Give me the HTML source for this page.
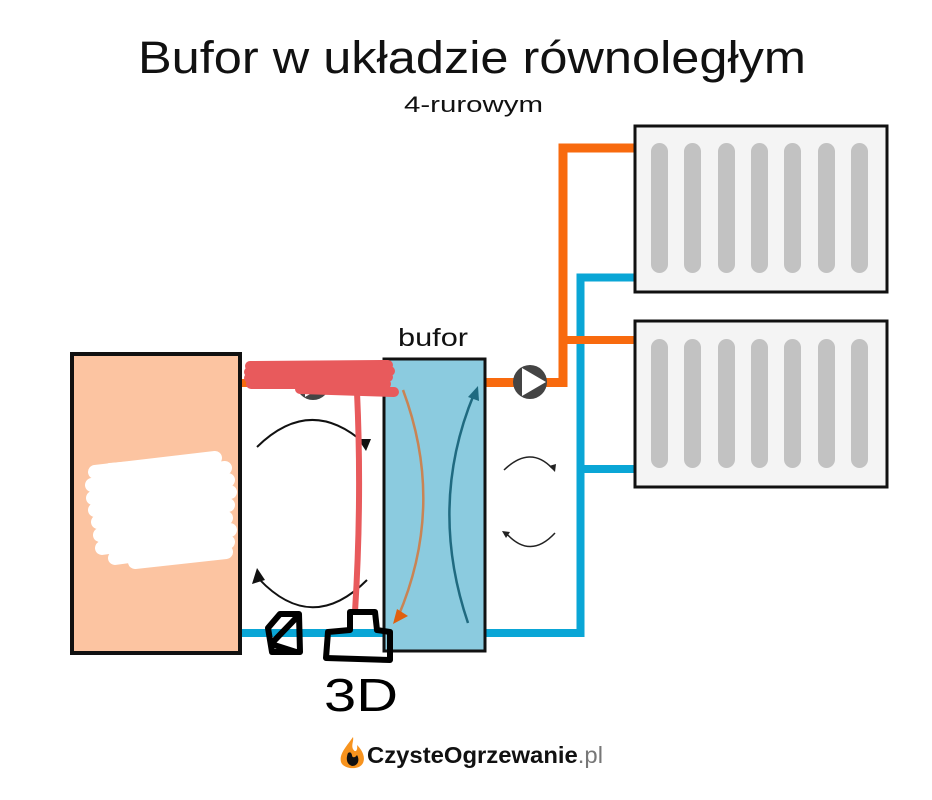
<!DOCTYPE html>
<html>
<head>
<meta charset="utf-8">
<style>
html,body{margin:0;padding:0;background:#fff;}
svg{display:block;}
</style>
</head>
<body>
<svg width="932" height="800" viewBox="0 0 932 800" xmlns="http://www.w3.org/2000/svg">
<rect width="932" height="800" fill="#fff"/>

<!-- Title -->
<text x="138" y="73" font-family="Liberation Sans, DejaVu Sans, sans-serif" font-size="45" fill="#111" textLength="668" lengthAdjust="spacingAndGlyphs">Bufor w układzie równoległym</text>
<text x="404" y="112" font-family="Liberation Sans, DejaVu Sans, sans-serif" font-size="22" fill="#111" textLength="139" lengthAdjust="spacingAndGlyphs">4-rurowym</text>
<text x="398" y="346" font-family="Liberation Sans, DejaVu Sans, sans-serif" font-size="25" fill="#111" textLength="70" lengthAdjust="spacingAndGlyphs">bufor</text>

<!-- Pipes left -->
<line x1="242" y1="383" x2="384" y2="383" stroke="#f86a0e" stroke-width="8"/>
<line x1="242" y1="633" x2="384" y2="633" stroke="#0aa6d6" stroke-width="8"/>

<!-- Pipes right: blue -->
<polyline points="486,633 580.5,633 580.5,277.5 634,277.5" fill="none" stroke="#0aa6d6" stroke-width="8"/>
<line x1="580.5" y1="469" x2="634" y2="469" stroke="#0aa6d6" stroke-width="8"/>
<!-- orange -->
<polyline points="486,382.5 563,382.5 563,148 634,148" fill="none" stroke="#f86a0e" stroke-width="9"/>
<line x1="563" y1="340" x2="634" y2="340" stroke="#f86a0e" stroke-width="8"/>

<!-- Boiler -->
<rect x="72" y="354" width="168" height="299" fill="#fcc4a1" stroke="#111" stroke-width="4"/>

<!-- Buffer -->
<rect x="384" y="359" width="101" height="292" fill="#8bcbdf" stroke="#111" stroke-width="3"/>

<!-- Radiators -->
<rect x="635" y="126" width="252" height="166" fill="#f4f4f4" stroke="#111" stroke-width="3"/>
<g fill="#c2c2c2">
<rect x="651" y="143" width="17" height="130" rx="8.5"/>
<rect x="684" y="143" width="17" height="130" rx="8.5"/>
<rect x="718" y="143" width="17" height="130" rx="8.5"/>
<rect x="751" y="143" width="17" height="130" rx="8.5"/>
<rect x="784" y="143" width="17" height="130" rx="8.5"/>
<rect x="818" y="143" width="17" height="130" rx="8.5"/>
<rect x="851" y="143" width="17" height="130" rx="8.5"/>
</g>
<rect x="635" y="321" width="252" height="166" fill="#f4f4f4" stroke="#111" stroke-width="3"/>
<g fill="#c2c2c2">
<rect x="651" y="339" width="17" height="129" rx="8.5"/>
<rect x="684" y="339" width="17" height="129" rx="8.5"/>
<rect x="718" y="339" width="17" height="129" rx="8.5"/>
<rect x="751" y="339" width="17" height="129" rx="8.5"/>
<rect x="784" y="339" width="17" height="129" rx="8.5"/>
<rect x="818" y="339" width="17" height="129" rx="8.5"/>
<rect x="851" y="339" width="17" height="129" rx="8.5"/>
</g>

<!-- Pumps -->
<g>
<circle cx="530" cy="382" r="17" fill="#444"/>
<polygon points="522,368 546,382 522,396" fill="#fff"/>
</g>
<g>
<circle cx="313" cy="383" r="17" fill="#444"/>
<polygon points="305,369 329,383 305,397" fill="#fff"/>
</g>

<!-- Black circulation arcs left -->
<path d="M257,447 Q310,395 364,443" fill="none" stroke="#111" stroke-width="2"/>
<polygon points="358,439 371,439 366,451" fill="#111"/>
<path d="M367,580 Q312,635 259,579" fill="none" stroke="#111" stroke-width="2"/>
<polygon points="252,584 257,568 265,580" fill="#111"/>

<!-- Small arcs right -->
<path d="M504,470 Q530,445 552,468" fill="none" stroke="#222" stroke-width="1.5"/>
<polygon points="549,466 556,464 555,472" fill="#222"/>
<path d="M555,533 Q530,560 506,533" fill="none" stroke="#222" stroke-width="1.5"/>
<polygon points="502,531 510,532 506,538" fill="#222"/>

<!-- Buffer arrows -->
<path d="M403,390 Q446,505 398,617" fill="none" stroke="#c98454" stroke-width="2.5"/>
<polygon points="393,624 397,609 408,616" fill="#e0600f"/>
<path d="M468,623 Q428,505 474,394" fill="none" stroke="#1f6a80" stroke-width="2.5"/>
<polygon points="478,386 479,401 468,397" fill="#1f6a80"/>

<!-- White scribble on boiler -->
<g fill="none" stroke="#fff" stroke-width="14" stroke-linecap="round" stroke-linejoin="round">
<path d="M95,472 L215,458 L92,485 L225,468 L93,498 L228,480 L95,510 L230,492 L98,522 L228,505 L100,535 L226,518 L102,548 L230,530 L115,558 L228,542 L135,562 L226,552"/>
<path d="M110,470 L205,462 M105,540 L200,528 M120,555 L210,545"/>
</g>

<!-- Red scribble -->
<g fill="none" stroke="#e85a5c" stroke-linecap="round" stroke-linejoin="round">
<path d="M250,366 L388,365 M249,372 L390,371 M249,378 L388,377 M251,384 L386,384 M300,389 L394,392" stroke-width="10"/>
<path d="M357,392 Q362,500 355,612" stroke-width="6"/>
</g>

<!-- Hand-drawn black shapes -->
<g fill="none" stroke="#000" stroke-width="6" stroke-linecap="round" stroke-linejoin="round">
<path d="M280,614 L299,614 L300,652 L272,652 L268,628 L280,614 Z"/>
<path d="M298,616 L271,644 L296,652"/>
<path d="M328,632 L350,630 L350,612 L375,612 L377,630 L390,632 L390,660 L326,658 Z"/>
</g>
<text x="324" y="711" font-family="Liberation Sans, DejaVu Sans, sans-serif" font-size="46" fill="#000" textLength="74" lengthAdjust="spacingAndGlyphs">3D</text>

<!-- Logo -->
<path d="M353,737 C346,747 339,754 341,762 C343,769 359,771 363,763 C366,756 361,749 357,745 C358,751 355,753 353,749 C351,745 354,741 353,737 Z" fill="#f7931e"/>
<path d="M348,753 C346,758 346,764 352,766 C358,766 360,760 357,755 C355,758 352,758 352,755 C351,752 350,752 348,753 Z" fill="#111"/>
<text x="367" y="763" font-family="Liberation Sans, DejaVu Sans, sans-serif" font-size="23" font-weight="bold" fill="#111" textLength="236" lengthAdjust="spacingAndGlyphs">CzysteOgrzewanie<tspan fill="#777" font-weight="normal">.pl</tspan></text>
</svg>
</body>
</html>
